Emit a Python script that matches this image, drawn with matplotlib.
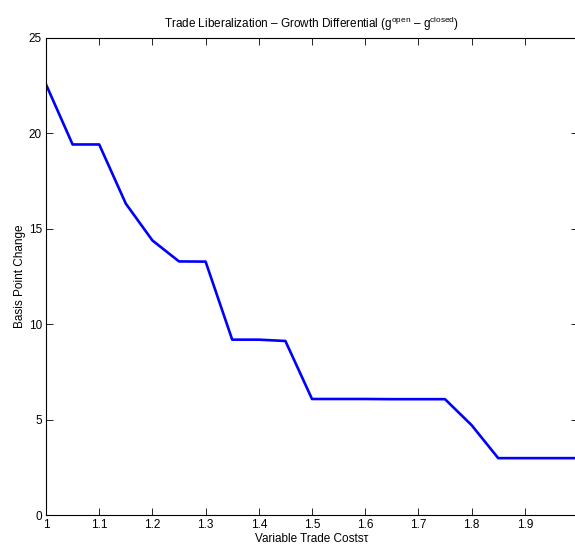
import matplotlib
matplotlib.use("Agg")
import matplotlib.pyplot as plt

plt.rcParams['font.family'] = ['Liberation Sans', 'DejaVu Sans']
plt.rcParams['mathtext.fontset'] = 'custom'
plt.rcParams['mathtext.rm'] = 'Liberation Sans'
plt.rcParams['mathtext.it'] = 'Liberation Sans'

tau = [1.00, 1.05, 1.10, 1.15, 1.20, 1.25, 1.30, 1.35, 1.40, 1.45, 1.50,
       1.55, 1.60, 1.65, 1.70, 1.75, 1.80, 1.85, 1.90, 1.95, 2.00]
growth_diff = [22.57, 19.42, 19.42, 16.32, 14.39, 13.29, 13.28, 9.19, 9.19, 9.12, 6.08,
               6.08, 6.08, 6.07, 6.07, 6.07, 4.71, 2.98, 2.98, 2.98, 2.98]
xticks = [1, 1.1, 1.2, 1.3, 1.4, 1.5, 1.6, 1.7, 1.8, 1.9]
xtick_labels = ['1', '1.1', '1.2', '1.3', '1.4', '1.5', '1.6', '1.7', '1.8', '1.9']
yticks = [0, 5, 10, 15, 20, 25]

fig = plt.figure(figsize=(5.75, 5.45), dpi=100)
ax = fig.add_axes([46/575, 30/545, 532/575, 477/545])
ax.plot(tau, growth_diff, color='#0000ff', linewidth=1.9)
ax.set_xlim(1, 2)
ax.set_ylim(0, 25)
ax.set_xticks(xticks)
ax.set_xticklabels(xtick_labels)
ax.set_yticks(yticks)
ax.tick_params(direction='in', top=True, right=True, labelsize=8.5, length=5, width=0.6, pad=3)
for s in ax.spines.values():
    s.set_linewidth(0.8)
ax.set_title(r'Trade Liberalization – Growth Differential (g$^{\mathrm{open}}$ – g$^{\mathrm{closed}}$)',
             fontsize=8.5, pad=7)
ax.set_xlabel('Variable Trade Costs\u03c4', fontsize=8.5, labelpad=1)
ax.set_ylabel('Basis Point Change', fontsize=8.5, labelpad=2)
fig.savefig('out.png', dpi=100)
